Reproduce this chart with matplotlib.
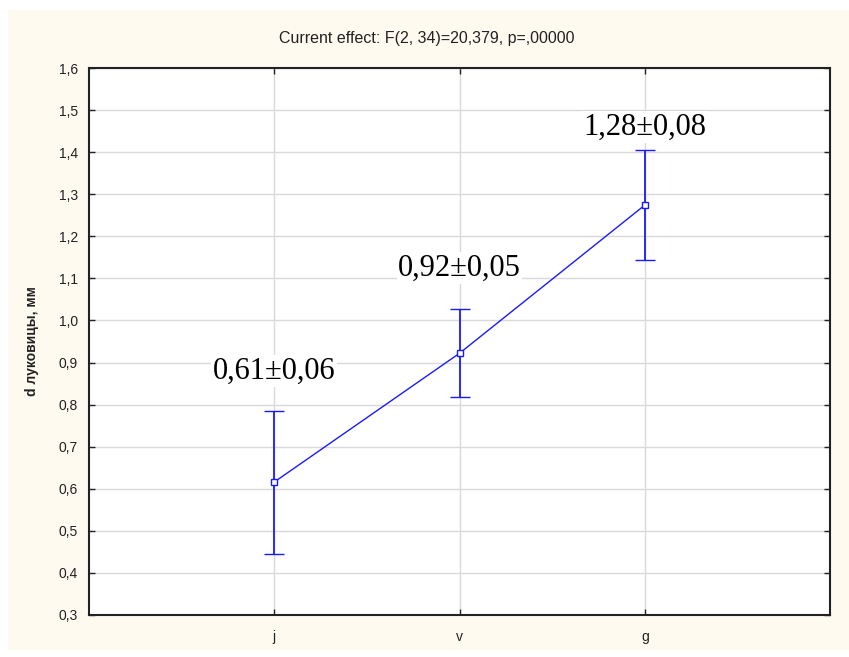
import matplotlib
matplotlib.use("Agg")
import matplotlib.pyplot as plt
from matplotlib.patches import Rectangle
from matplotlib.ticker import FuncFormatter

# данные
groups = ["j", "v", "g"]
means = [0.616, 0.922, 1.274]
err_lo = [0.445, 0.817, 1.143]
err_hi = [0.786, 1.027, 1.405]
notes = ["0,61±0,06", "0,92±0,05", "1,28±0,08"]
note_y = [0.88, 1.125, 1.46]
yticks = [0.3, 0.4, 0.5, 0.6, 0.7, 0.8, 0.9, 1.0, 1.1, 1.2, 1.3, 1.4, 1.5, 1.6]

plt.rcParams["font.family"] = ["Liberation Sans", "DejaVu Sans"]

fig = plt.figure(figsize=(8.49, 6.57), dpi=100)
fig.patch.set_facecolor("white")
# кремовый фон как в Statistica
fig.patches.append(Rectangle((8 / 849, 7 / 657), 1, 1 - 17 / 657, transform=fig.transFigure,
                             facecolor="#fffaf0", edgecolor="none", zorder=-10))

ax = fig.add_axes([89 / 849, 42 / 657, 741 / 849, 547 / 657])
ax.set_facecolor("white")

x = list(range(len(groups)))
yerr = [[m - lo for m, lo in zip(means, err_lo)], [hi - m for m, hi in zip(means, err_hi)]]
ax.errorbar(x, means, yerr=yerr, color="#1a1aff", lw=1, elinewidth=1.3, capsize=7, capthick=1.3,
            marker="s", ms=5, mfc="white", mec="#1a1aff", mew=1, zorder=3)

for xi, t, ty in zip(x, notes, note_y):
    ax.text(xi, ty, t, ha="center", va="center", fontsize=22, family=["Liberation Serif"],
            bbox=dict(facecolor="white", edgecolor="none", pad=1), zorder=4)

ax.set_xlim(-1, 3)
ax.set_ylim(0.3, 1.6)
ax.set_xticks(x)
ax.set_xticklabels(groups)
ax.set_yticks(yticks)
ax.yaxis.set_major_formatter(FuncFormatter(lambda v, p: ("%.1f" % v).replace(".", ",")))
ax.grid(True, color="#d9d9d9", lw=1)
ax.set_axisbelow(True)
ax.tick_params(direction="in", length=4, top=True, right=True, labelsize=10, colors="#222222",
               width=1)
ax.tick_params(axis="x", pad=11)
ax.tick_params(axis="y", pad=8)
for s in ax.spines.values():
    s.set_linewidth(1.5)
    s.set_color("#222222")

fig.text(0.503, 1 - 38 / 657, "Current effect: F(2, 34)=20,379, p=,00000", fontsize=11.5,
         ha="center", va="center", color="#222222")
ax.set_ylabel("d луковицы, мм", fontsize=10, fontweight="bold", color="#222222")
ax.yaxis.set_label_coords(-50 / 741, 0.5)

fig.savefig("out.png", dpi=100)
